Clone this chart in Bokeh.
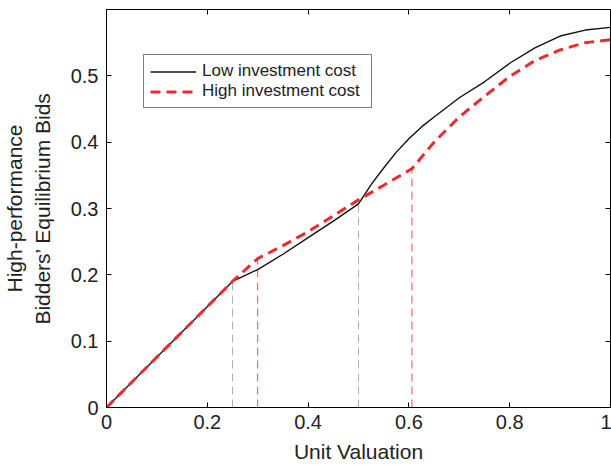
from bokeh.plotting import figure
from bokeh.models import LinearAxis, FixedTicker, Range1d, Legend, LegendItem, CustomLabelingPolicy
from bokeh.embed import file_html
from bokeh.resources import INLINE

# ---- data ----
x_low = [0.0, 0.25, 0.30, 0.35, 0.40, 0.45, 0.50, 0.525, 0.55, 0.575, 0.60, 0.625, 0.65, 0.70, 0.75, 0.80, 0.85, 0.90, 0.95, 1.00]
y_low = [0.0, 0.190, 0.208, 0.231, 0.256, 0.281, 0.307, 0.336, 0.361, 0.385, 0.405, 0.423, 0.438, 0.467, 0.491, 0.519, 0.542, 0.560, 0.569, 0.573]

x_high = [0.0, 0.25, 0.30, 0.35, 0.40, 0.45, 0.50, 0.55, 0.606, 0.65, 0.70, 0.75, 0.80, 0.85, 0.90, 0.95, 1.00]
y_high = [0.0, 0.190, 0.2245, 0.244, 0.265, 0.289, 0.313, 0.335, 0.360, 0.400, 0.438, 0.469, 0.499, 0.523, 0.539, 0.550, 0.5545]

# thresholds (vertical guide lines)
low_thresh_x = [0.25, 0.50]
low_thresh_y = [0.190, 0.307]
high_thresh_x = [0.30, 0.606]
high_thresh_y = [0.2245, 0.360]

x_ticks = [0.0, 0.2, 0.4, 0.6, 0.8, 1.0]
x_tick_labels = ["0", "0.2", "0.4", "0.6", "0.8", "1"]
y_ticks = [0.0, 0.1, 0.2, 0.3, 0.4, 0.5]
y_tick_labels = ["0", "0.1", "0.2", "0.3", "0.4", "0.5"]

series_names = ["Low investment cost", "High investment cost"]

FONT = "Liberation Sans"
TXT = "#222222"
RED = "#ee2a30"

p = figure(width=611, height=465, output_backend="svg", toolbar_location=None,
           x_range=Range1d(0, 1), y_range=Range1d(0, 0.6),
           min_border_left=106, min_border_right=1, min_border_top=9, min_border_bottom=58,
           x_axis_label="Unit Valuation",
           y_axis_label="High-performance\nBidders\u2019 Equilibrium Bids")
p.background_fill_color = "white"
p.border_fill_color = "white"
p.outline_line_color = "black"
p.outline_line_width = 1
p.grid.visible = False

# vertical guide lines
p.segment(x0=low_thresh_x, y0=[0] * len(low_thresh_x), x1=low_thresh_x, y1=low_thresh_y,
          line_color="#b0b0b0", line_width=1, line_dash="8 5")
p.segment(x0=high_thresh_x, y0=[0] * len(high_thresh_x), x1=high_thresh_x, y1=high_thresh_y,
          line_color="#f05050", line_width=1, line_dash="8 5")

r_low = p.line(x_low, y_low, line_color="#111111", line_width=1.4)
r_high = p.line(x_high, y_high, line_color=RED, line_width=3, line_dash="10 6")

hide_all = CustomLabelingPolicy(code="""
for (let i = 0; i < indices.size; i++) { indices.unset(i) }
return indices
""")

def style_axis(ax, labels=True):
    ax.major_tick_in = 5
    ax.major_tick_out = 0
    ax.minor_tick_line_color = None
    ax.axis_line_color = "black"
    ax.major_tick_line_color = "black"
    if labels:
        ax.major_label_text_font = FONT
        ax.major_label_text_font_size = "20px"
        ax.major_label_text_color = TXT
        ax.axis_label_text_font = FONT
        ax.axis_label_text_font_size = "21px"
        ax.axis_label_text_font_style = "normal"
        ax.axis_label_text_color = TXT
    else:
        ax.major_label_text_font_size = "0px"
        ax.major_label_standoff = 0
        ax.axis_label_standoff = 0
        ax.major_label_policy = hide_all

xa = p.xaxis[0]
ya = p.yaxis[0]
xa.ticker = FixedTicker(ticks=x_ticks)
ya.ticker = FixedTicker(ticks=y_ticks)
xa.major_label_overrides = dict(zip(x_ticks, x_tick_labels))
ya.major_label_overrides = dict(zip(y_ticks, y_tick_labels))
style_axis(xa)
style_axis(ya)
xa.major_label_standoff = 7
xa.axis_label_standoff = 8
ya.major_label_standoff = 8
ya.axis_label_standoff = 14

top = LinearAxis(ticker=FixedTicker(ticks=x_ticks))
right = LinearAxis(ticker=FixedTicker(ticks=y_ticks))
style_axis(top, labels=False)
style_axis(right, labels=False)
p.add_layout(top, "above")
p.add_layout(right, "right")

legend = Legend(items=[LegendItem(label=series_names[0], renderers=[r_low]),
                       LegendItem(label=series_names[1], renderers=[r_high])],
                location=(37, 299))
legend.border_line_color = "black"
legend.border_line_width = 1
legend.background_fill_color = "white"
legend.background_fill_alpha = 1
legend.padding = 6
legend.spacing = 0
legend.margin = 0
legend.glyph_width = 46
legend.glyph_height = 19
legend.label_height = 19
legend.label_width = 163
legend.label_standoff = 6
legend.label_text_font = FONT
legend.label_text_font_size = "17px"
legend.label_text_color = TXT
p.add_layout(legend, "center")

open("out.html", "w").write(file_html(p, INLINE))
